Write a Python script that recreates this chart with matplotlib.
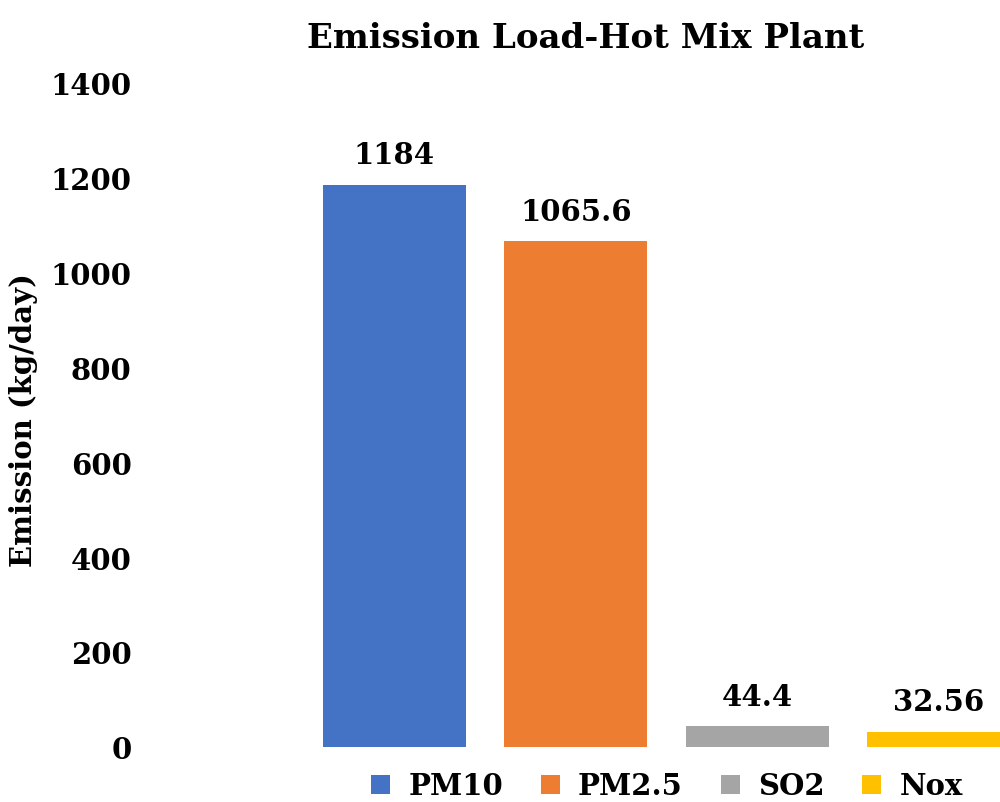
import matplotlib.pyplot as plt
from matplotlib.patches import Patch

# data
pollutants = ["PM10", "PM2.5", "SO2", "Nox"]
emission = [1184, 1065.6, 44.4, 32.56]
value_labels = ["1184", "1065.6", "44.4", "32.56"]
colors = ["#4472C4", "#ED7D31", "#A5A5A5", "#FFC000"]

plt.rcParams['font.family'] = ['DejaVu Serif']
plt.rcParams['font.weight'] = 'bold'

fig = plt.figure(figsize=(10, 8.03), dpi=100)
ax = fig.add_axes([0.14, 0.0685, 0.86, 0.8281])

pos = list(range(len(pollutants)))
bars = ax.bar(pos, emission, width=0.79, color=colors)
ax.bar_label(bars, labels=value_labels, padding=11, fontsize=21, fontweight='bold')

ax.set_xlim(-1.403, 3.339)
ax.set_ylim(0, 1400)
ax.set_yticks(range(0, 1401, 200))
ax.set_xticks([])
ax.tick_params(axis='y', length=0, pad=6, labelsize=21)
for lbl in ax.get_yticklabels():
    lbl.set_fontweight('bold')
for s in ax.spines.values():
    s.set_visible(False)

ax.set_ylabel("Emission (kg/day)", fontsize=21, fontweight='bold', va='center')
ax.yaxis.set_label_coords(-0.135, 0.493)

fig.text(0.586, 1 - 48 / 803, "Emission Load-Hot Mix Plant", ha='center', va='baseline',
         fontsize=24.5, fontweight='bold')

handles = [Patch(facecolor=c, label=p) for c, p in zip(colors, pollutants)]
fig.legend(handles=handles, loc='center', bbox_to_anchor=(0.667, 1 - 787 / 803), ncol=4,
           frameon=False, fontsize=21, handlelength=0.65, handleheight=0.65,
           handletextpad=0.62, columnspacing=1.3, borderpad=0, borderaxespad=0)

fig.savefig("out.png", dpi=100)
